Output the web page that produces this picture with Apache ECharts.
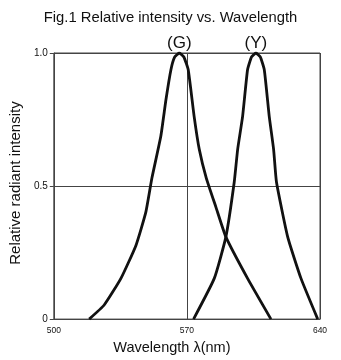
<!DOCTYPE html>
<html>
<head>
<meta charset="utf-8">
<script src="https://cdn.jsdelivr.net/npm/echarts@6/dist/echarts.min.js"></script>
<style>
  html, body { margin: 0; padding: 0; background: #fff; }
  #chart { width: 341px; height: 360px; }
</style>
</head>
<body>
<div id="chart"></div>
<script>
const xTicks = [500, 570, 640]
const yTicks = [0, 0.5, 1.0]
const peakNames = ['(G)', '(Y)']
const peakWavelengths = [566, 606.3]

const greenCurve = [
  [518.6, 0], [526.5, 0.053], [535.3, 0.153], [543.2, 0.277], [548.4, 0.402],
  [551.6, 0.53], [556.3, 0.688], [559.0, 0.825], [561.6, 0.937],
  [563.6, 0.985], [566, 1.0], [568.4, 0.985], [570.7, 0.937], [573.8, 0.762],
  [576.5, 0.638], [580.2, 0.53], [585.3, 0.42], [590.5, 0.309],
  [601.9, 0.153], [614.2, 0]
]
const yellowCurve = [
  [573.5, 0], [584.4, 0.153], [590.5, 0.309], [594.9, 0.515], [596.7, 0.638],
  [599.3, 0.762], [601.9, 0.937], [604.0, 0.985], [606.3, 1.0], [608.6, 0.985],
  [610.7, 0.937], [613.3, 0.762], [615.6, 0.638], [617.1, 0.515], [623.0, 0.309],
  [630.0, 0.153], [638.8, 0]
]

const font = 'Liberation Sans, Arial, sans-serif'
let myChart = echarts.init(document.getElementById('chart'), null, { renderer: 'canvas' })

const makeSeries = (name, data, peak) => ({
  name: name,
  type: 'line',
  data: data,
  smooth: 0.15,
  showSymbol: false,
  lineStyle: { color: '#111', width: 2.8 },
  markPoint: {
    symbol: 'circle',
    symbolSize: 0,
    data: [{ coord: [peak, 1.0], value: name }],
    label: {
      show: true,
      position: 'top',
      distance: 1,
      formatter: name,
      color: '#111',
      fontFamily: font,
      fontSize: 17
    }
  }
})

let option = {
  animation: false,
  title: {
    text: 'Fig.1 Relative intensity vs. Wavelength',
    left: 'center',
    top: 5,
    textStyle: { fontFamily: font, fontSize: 14.8, fontWeight: 'normal', color: '#111' }
  },
  grid: { left: 53, right: 21, top: 53, bottom: 39, show: true, borderColor: '#444', borderWidth: 1 },
  xAxis: {
    type: 'value',
    min: xTicks[0],
    max: xTicks[xTicks.length - 1],
    interval: xTicks[1] - xTicks[0],
    name: 'Wavelength λ(nm)',
    nameLocation: 'middle',
    nameGap: 20,
    nameTextStyle: { fontFamily: font, fontSize: 14.5, color: '#111', padding: [0, 30, 0, 0] },
    axisLine: { lineStyle: { color: '#444' } },
    axisTick: { show: false },
    axisLabel: { fontFamily: font, fontSize: 8.5, color: '#111', margin: 7 },
    splitLine: { show: true, lineStyle: { color: '#444', width: 1 } }
  },
  yAxis: {
    type: 'value',
    min: yTicks[0],
    max: yTicks[yTicks.length - 1],
    interval: yTicks[1] - yTicks[0],
    name: 'Relative radiant intensity',
    nameLocation: 'middle',
    nameGap: 29,
    nameTextStyle: { fontFamily: font, fontSize: 15, color: '#111', padding: [0, 0, 0, 6] },
    axisLine: { lineStyle: { color: '#444' } },
    axisTick: { show: true, length: 4, lineStyle: { color: '#444' } },
    axisLabel: {
      fontFamily: font, fontSize: 10, color: '#111', margin: 6,
      formatter: v => (v === 0 ? '0' : v.toFixed(1))
    },
    splitLine: { show: true, lineStyle: { color: '#444', width: 1 } }
  },
  series: [
    makeSeries(peakNames[0], greenCurve, peakWavelengths[0]),
    makeSeries(peakNames[1], yellowCurve, peakWavelengths[1])
  ]
}
myChart.setOption(option)
</script>
</body>
</html>
